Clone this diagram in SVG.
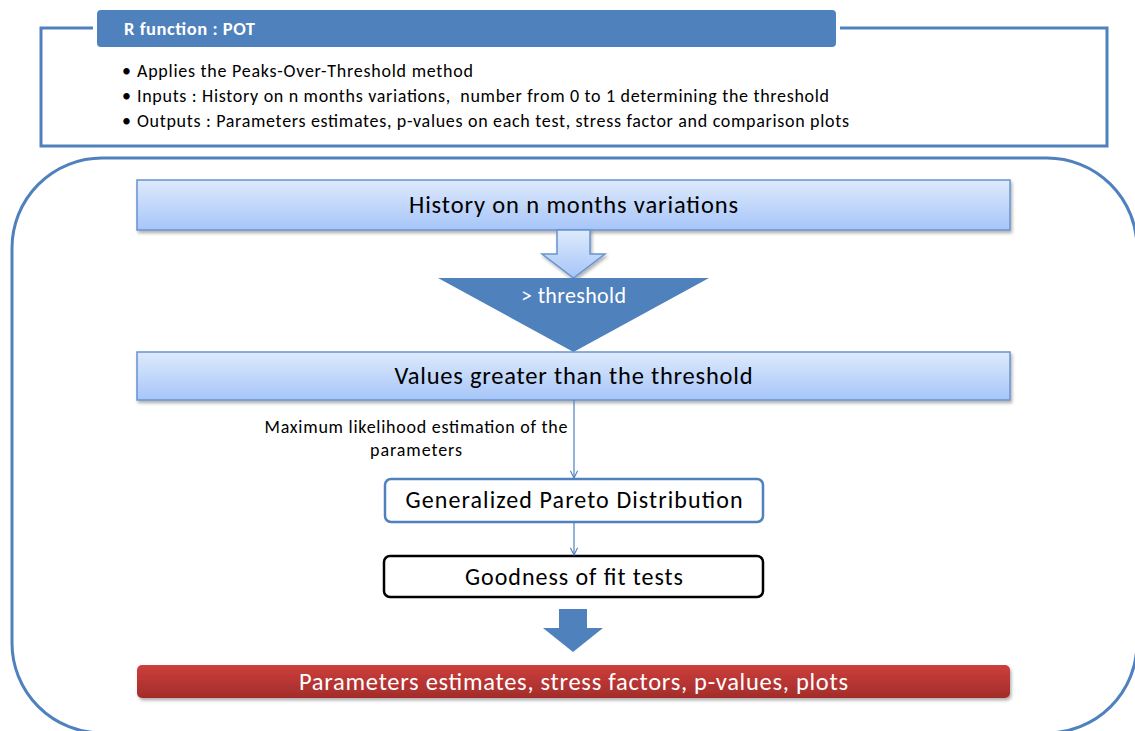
<svg xmlns="http://www.w3.org/2000/svg" width="1135" height="731" viewBox="0 0 1135 731">
  <defs>
    <linearGradient id="gBlue" x1="0" y1="0" x2="0" y2="1">
      <stop offset="0" stop-color="#DEEAFD"/>
      <stop offset="1" stop-color="#A6C5F8"/>
    </linearGradient>
    <linearGradient id="gRed" x1="0" y1="0" x2="0" y2="1">
      <stop offset="0" stop-color="#CD3F3C"/>
      <stop offset="1" stop-color="#A32C2A"/>
    </linearGradient>
    <filter id="shadow" x="-5%" y="-30%" width="110%" height="170%">
      <feDropShadow dx="1.5" dy="2.5" stdDeviation="1.5" flood-color="#000" flood-opacity="0.3"/>
    </filter>
    <marker id="vHead" viewBox="0 0 10 10" refX="9" refY="5" markerWidth="9" markerHeight="9" orient="auto" markerUnits="userSpaceOnUse">
      <path d="M1,1 L9,5 L1,9" fill="none" stroke="#4F81BD" stroke-width="1.2"/>
    </marker>
    <style>
      .txt { font-family: Calibri, Carlito, "Open Sans", "Liberation Sans", sans-serif; }
      .frame { fill: none; stroke: #4F81BD; stroke-width: 3; }
      .step { fill: url(#gBlue); stroke: #6893CF; stroke-width: 1.5; filter: url(#shadow); }
      .stepLabel { font-size: 24.5px; fill: #000; text-anchor: middle; }
      .bullet { font-size: 18px; fill: #000; }
      .conn { fill: none; stroke: #4F81BD; stroke-width: 1.2; }
    </style>
  </defs>

  <!-- Function summary panel -->
  <g id="summary">
    <rect class="frame" x="41" y="28" width="1066" height="118"/>
    <rect x="95" y="8" width="743" height="41" rx="6" fill="#4F81BD" stroke="#fff" stroke-width="4"/>
    <text class="txt" x="124" y="35" font-size="18.5" font-weight="bold" fill="#fff" textLength="131">R function : POT</text>
    <text class="txt bullet" x="122" y="77" font-size="19">•</text>
    <text class="txt bullet" x="137" y="77" textLength="336">Applies the Peaks-Over-Threshold method</text>
    <text class="txt bullet" x="122" y="102" font-size="19">•</text>
    <text class="txt bullet" x="137" y="102" textLength="692" xml:space="preserve">Inputs : History on n months variations,  number from 0 to 1 determining the threshold</text>
    <text class="txt bullet" x="122" y="127" font-size="19">•</text>
    <text class="txt bullet" x="137" y="127" textLength="712">Outputs : Parameters estimates, p-values on each test, stress factor and comparison plots</text>
  </g>

  <!-- Process container -->
  <g id="process-frame">
    <rect class="frame" x="12" y="158" width="1125" height="575" rx="90" ry="90"/>
  </g>

  <g id="history">
    <rect class="step" x="137" y="180" width="873" height="50"/>
    <text class="txt stepLabel" x="573.5" y="213" textLength="329">History on n months variations</text>
  </g>

  <g id="history-arrow">
    <path d="M557,230 L590,230 L590,254 L605,254 L573.5,278 L542,254 L557,254 Z" fill="url(#gBlue)" stroke="#6893CF" stroke-width="1.5" filter="url(#shadow)"/>
  </g>

  <g id="threshold">
    <path d="M438,278 L709,278 L573.5,352 Z" fill="#4F81BD"/>
    <text class="txt" x="573.5" y="303" font-size="22" fill="#fff" text-anchor="middle" textLength="105">&gt; threshold</text>
  </g>

  <g id="exceedances">
    <rect class="step" x="137" y="352" width="873" height="48"/>
    <text class="txt stepLabel" x="573.5" y="384" textLength="358">Values greater than the threshold</text>
  </g>

  <g id="gpd">
    <rect x="385" y="479" width="378" height="43" rx="6" fill="#fff" stroke="#4F81BD" stroke-width="2.5"/>
    <text class="txt" x="574" y="508" font-size="24" text-anchor="middle" textLength="337">Generalized Pareto Distribution</text>
  </g>

  <g id="gof">
    <rect x="384" y="556" width="379" height="41" rx="6" fill="#fff" stroke="#000" stroke-width="2.5"/>
    <text class="txt" x="574" y="585" font-size="24" text-anchor="middle" textLength="218">Goodness of fit tests</text>
  </g>

  <g id="results-arrow">
    <path d="M559,609 L587,609 L587,628 L603,628 L573,652 L543,628 L559,628 Z" fill="#4F81BD"/>
  </g>

  <g id="results">
    <rect x="137" y="665" width="873" height="33" rx="5" fill="url(#gRed)" filter="url(#shadow)"/>
    <text class="txt" x="573.5" y="690" font-size="24.5" fill="#fff" text-anchor="middle" textLength="549">Parameters estimates, stress factors, p-values, plots</text>
  </g>

  <!-- Connectors -->
  <g id="connectors">
    <line class="conn" x1="574" y1="400" x2="574" y2="478" marker-end="url(#vHead)"/>
    <text class="txt" x="416" y="433" font-size="18" text-anchor="middle" textLength="303">Maximum likelihood estimation of the</text>
    <text class="txt" x="416" y="456" font-size="18" text-anchor="middle" textLength="92">parameters</text>
    <line class="conn" x1="574" y1="522" x2="574" y2="555" marker-end="url(#vHead)"/>
  </g>
</svg>
